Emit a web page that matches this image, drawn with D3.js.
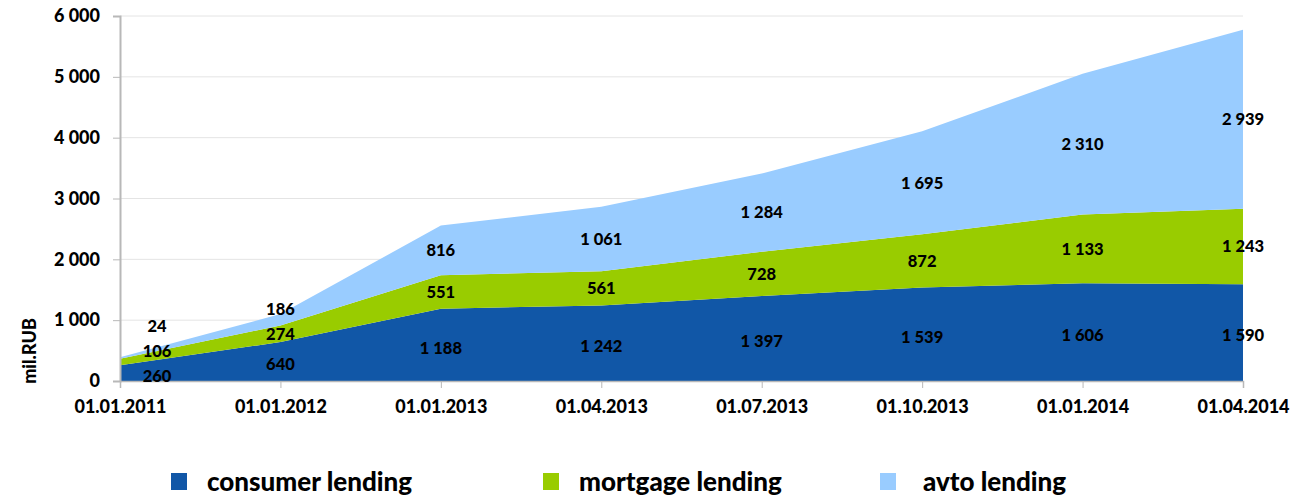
<!DOCTYPE html>
<html>
<head>
<meta charset="utf-8">
<script src="https://cdn.jsdelivr.net/npm/d3@7"></script>
<style>
  html, body { margin: 0; padding: 0; background: #fff; }
  svg { display: block; font-family: Lato, "Open Sans", sans-serif; font-weight: 900; }
</style>
</head>
<body>
<svg id="chart" width="1293" height="498"></svg>
<script>
const categories = ["01.01.2011", "01.01.2012", "01.01.2013", "01.04.2013", "01.07.2013", "01.10.2013", "01.01.2014", "01.04.2014"];
const consumer = [260, 640, 1188, 1242, 1397, 1539, 1606, 1590];
const mortgage = [106, 274, 551, 561, 728, 872, 1133, 1243];
const avto = [24, 186, 816, 1061, 1284, 1695, 2310, 2939];
const seriesNames = ["consumer lending", "mortgage lending", "avto lending"];
const seriesKeys = ["consumer", "mortgage", "avto"];
const colors = ["#1157A7", "#99CC00", "#99CCFF"];
const yTicks = [0, 1000, 2000, 3000, 4000, 5000, 6000];

(function () {
const svg = d3.select("#chart");
const pLeft = 120, pRight = 1243, pTop = 16, pBottom = 381;

const x = d3.scalePoint().domain(categories).range([pLeft, pRight]);
const y = d3.scaleLinear().domain([0, 6000]).range([pBottom, pTop]);

const table = categories.map((c, i) => ({cat: c, consumer: consumer[i], mortgage: mortgage[i], avto: avto[i]}));
const stack = d3.stack().keys(seriesKeys)(table);

const fmt = v => d3.format(",")(v).replace(/,/g, " ");

// gridlines
svg.append("g").selectAll("line").data(yTicks.filter(t => t > 0)).join("line")
  .attr("x1", pLeft).attr("x2", pRight)
  .attr("y1", d => y(d)).attr("y2", d => y(d))
  .attr("stroke", "#e4e4e4").attr("stroke-width", 1);

// areas
const area = d3.area().x(d => x(d.data.cat)).y0(d => y(d[0])).y1(d => y(d[1]));
svg.append("g").selectAll("path").data(stack).join("path")
  .attr("d", area).attr("fill", (d, i) => colors[i]);

// y axis
const yAxis = svg.append("g").attr("transform", `translate(${pLeft},0)`)
  .call(d3.axisLeft(y).tickValues(yTicks).tickFormat(fmt).tickSize(7).tickPadding(13));
yAxis.select(".domain").attr("stroke", "#b8b8b8").attr("stroke-width", 2);
yAxis.selectAll(".tick line").attr("stroke", "#b8b8b8");
yAxis.selectAll("text").attr("font-size", 18).attr("font-weight", 900).attr("font-family", "Lato, sans-serif").attr("fill", "#000");

// x axis
const xAxis = svg.append("g").attr("transform", `translate(0,${pBottom})`)
  .call(d3.axisBottom(x).tickSize(7).tickPadding(12));
xAxis.select(".domain").attr("stroke", "#b8b8b8").attr("stroke-width", 1.5);
xAxis.selectAll(".tick line").attr("stroke", "#b8b8b8");
xAxis.selectAll("text").attr("font-size", 18).attr("font-weight", 900).attr("font-family", "Lato, sans-serif").attr("fill", "#000");

// y title
svg.append("text").attr("transform", "translate(36,351) rotate(-90)")
  .attr("text-anchor", "middle").attr("font-size", 18).text("mil.RUB");

// data labels with simple collision avoidance
const labelG = svg.append("g").attr("font-size", 16.5).attr("text-anchor", "middle");
categories.forEach((c, i) => {
  let prev = null;
  stack.forEach((s, k) => {
    const d = s[i];
    let ly = y((d[0] + d[1]) / 2);
    if (prev === null) ly = Math.min(ly + 3, pBottom - 5);
    else ly = Math.min(ly, prev - 25);
    prev = ly;
    let lx = x(c);
    if (i === 0) lx = x(c) + 37;
    labelG.append("text").attr("x", lx).attr("y", ly).attr("dy", "0.35em").text(fmt(d.data[seriesKeys[k]]));
  });
});

// legend
const legendX = [171, 543, 880];
const lg = svg.append("g");
seriesNames.forEach((n, i) => {
  lg.append("rect").attr("x", legendX[i]).attr("y", 473).attr("width", 16).attr("height", 17).attr("fill", colors[i]);
  lg.append("text").attr("x", legendX[i] + (i === 2 ? 43 : 36)).attr("y", 491).attr("font-size", 26).text(n);
});
})();
</script>
</body>
</html>
